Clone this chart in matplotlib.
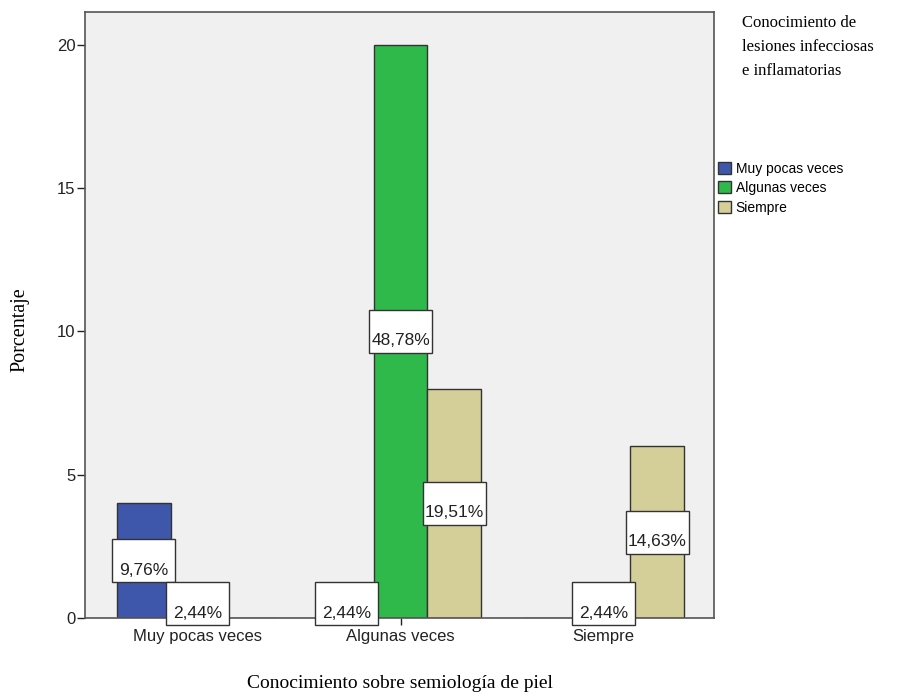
import matplotlib.pyplot as plt
import numpy as np

# categorías del eje x y series (respuesta sobre lesiones)
grupos = ["Muy pocas veces", "Algunas veces", "Siempre"]
series = ["Muy pocas veces", "Algunas veces", "Siempre"]
# conteo de cada serie en cada grupo del eje x
muy_pocas = [4, 1, 0]
algunas = [1, 20, 1]
siempre = [0, 8, 6]
# porcentajes sobre el total (n = 41)
pct_muy_pocas = ["9,76%", "2,44%", None]
pct_algunas = ["2,44%", "48,78%", "2,44%"]
pct_siempre = [None, "19,51%", "14,63%"]
colores = ["#3e57ab", "#2fb94b", "#d4cf98"]

valores = [muy_pocas, algunas, siempre]
etiquetas = [pct_muy_pocas, pct_algunas, pct_siempre]

plt.rcParams['font.family'] = ['Liberation Sans', 'DejaVu Sans']
fig = plt.figure(figsize=(9.16, 7), dpi=100)
W, H = 916, 700
ax = fig.add_axes([85 / W, 1 - 618 / H, (714 - 85) / W, (618 - 12) / H])
ax.set_facecolor("#f0f0f0")

x = np.arange(len(grupos))
ancho = 0.264
for i, s in enumerate(series):
    pos = x + (i - 1) * ancho
    ax.bar(pos, valores[i], width=ancho, color=colores[i], edgecolor="#333333",
           linewidth=1, zorder=2, label=s)

# cajas blancas con el porcentaje, centradas a media altura de la barra
bw, bh = 0.31, 1.5
for i in range(len(series)):
    for gi in range(len(grupos)):
        txt = etiquetas[i][gi]
        v = valores[i][gi]
        if txt is None or v == 0:
            continue
        cx = gi + (i - 1) * ancho
        cy = v / 2
        ax.add_patch(plt.Rectangle((cx - bw / 2, cy - bh / 2), bw, bh,
                                   facecolor="white", edgecolor="#333333",
                                   linewidth=1, zorder=3, clip_on=False))
        ax.text(cx, cy - 0.33, txt, ha="center", va="center", fontsize=12.5,
                color="#222222", zorder=4)

ax.set_xlim(-0.554, 2.544)
ax.set_ylim(0, 21.15)
ax.set_yticks([0, 5, 10, 15, 20])
ax.set_xticks(x)
ax.set_xticklabels(grupos)
ax.tick_params(axis="both", labelsize=12, colors="#222222", length=6,
               width=1, direction="out")
ax.tick_params(axis="y", pad=1)
ax.tick_params(axis="x", length=5, pad=3)
for sp in ax.spines.values():
    sp.set_color("#555555")
    sp.set_linewidth(1.2)

serif = ['Liberation Serif', 'DejaVu Serif']
fig.text(20 / W, 1 - 330 / H, "Porcentaje", rotation=90, ha="center",
         va="center", fontsize=14.5, family=serif)
fig.text(400 / W, 1 - 684 / H, "Conocimiento sobre semiología de piel",
         ha="center", va="center", fontsize=14, family=serif)
fig.text(742 / W, 1 - 15 / H,
         "Conocimiento de\nlesiones infecciosas\ne inflamatorias",
         ha="left", va="top", fontsize=12, family=serif, linespacing=1.68)

fig.legend(loc="upper left", bbox_to_anchor=(712 / W, 1 - 156 / H),
           frameon=False, fontsize=10, handlelength=0.95, handleheight=0.95,
           handletextpad=0.35, labelspacing=0.4, borderaxespad=0)

fig.savefig("out.png", dpi=100)
